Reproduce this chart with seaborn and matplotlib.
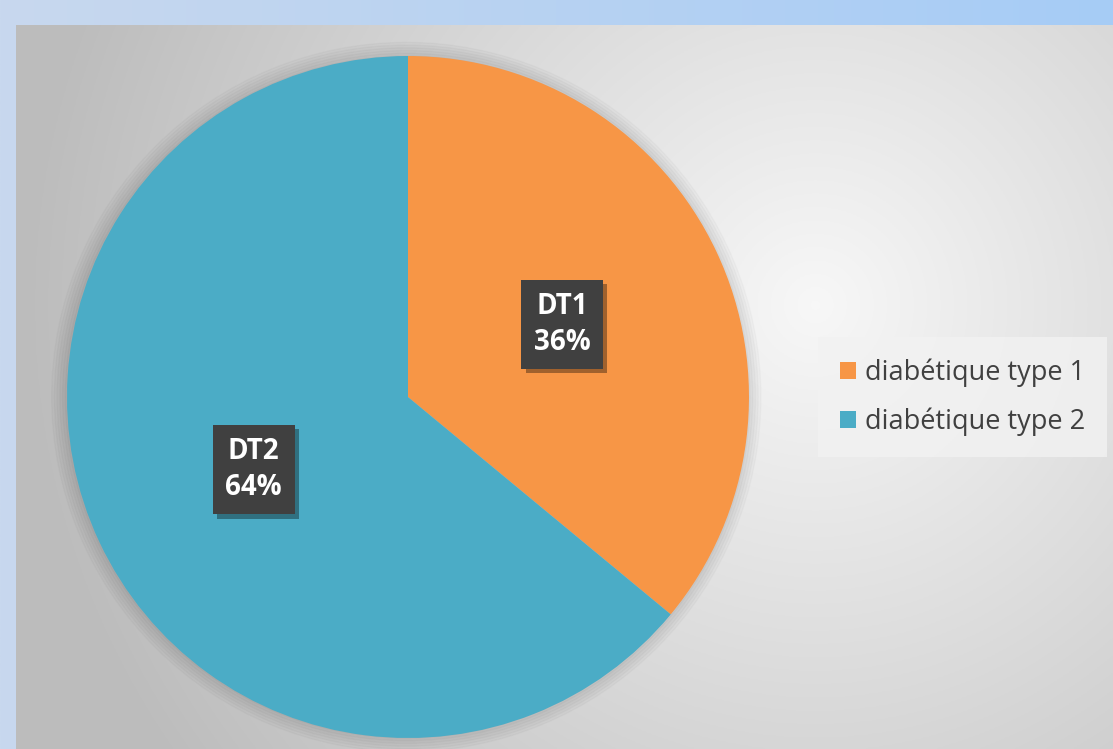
import numpy as np
import matplotlib
matplotlib.use("Agg")
import matplotlib.pyplot as plt
import matplotlib.patheffects as pe
import seaborn as sns
from matplotlib.patches import Circle

# data
categories = ["diabétique type 1", "diabétique type 2"]
short_labels = ["DT1", "DT2"]
values = [36, 64]

sns.set_style("white")
plt.rcParams['font.family'] = ['Open Sans', 'DejaVu Sans']
palette = sns.color_palette(["#F79646", "#4BACC6"])

fig = plt.figure(figsize=(11.13, 7.49), dpi=100)

# outer light blue background (horizontal gradient)
bg = fig.add_axes([0, 0, 1, 1])
bg.set_axis_off()
xx = np.linspace(0, 1, 400)
c0 = np.array([200, 216, 238]) / 255
c1 = np.array([166, 204, 246]) / 255
grad = c0[None, None, :] * (1 - xx)[None, :, None] + c1[None, None, :] * xx[None, :, None]
bg.imshow(np.repeat(grad, 4, axis=0), aspect="auto", extent=[0, 1, 0, 1])

# inner grey panel with radial gradient
panel = fig.add_axes([16 / 1113, 0, 1 - 16 / 1113, (749 - 25) / 749])
panel.set_axis_off()
W, H = 1097, 724
X, Y = np.meshgrid(np.linspace(0, W, 550), np.linspace(0, H, 362))
cx, cy = 800, 280
d = np.sqrt((X - cx) ** 2 + (Y - cy) ** 2) / 820
v = np.clip(0.97 - 0.24 * d, 0.74, 0.97)
panel.imshow(np.dstack([v, v, v]), aspect="auto", extent=[0, 1, 0, 1])

# pie
ax = fig.add_axes([(408 - 341) / 1113, (749 - 738) / 749, 682 / 1113, 682 / 749])
ax.set_axis_off()
ax.set_facecolor("none")

# soft shadow around the pie
for r in np.linspace(1.04, 1.0, 6):
    ax.add_patch(Circle((-0.005, 0.0), r, color="black", alpha=0.02, zorder=0, clip_on=False))

labels_text = [f"{s}\n{v}%" for s, v in zip(short_labels, values)]
wedges, _ = ax.pie(values, colors=palette, startangle=90, counterclock=False,
                   radius=1, wedgeprops=dict(linewidth=0))
for w in wedges:
    w.set_clip_on(False)
for w, lab in zip(wedges, labels_text):
    mid = np.deg2rad((w.theta1 + w.theta2) / 2)
    x, y = 0.5 * np.cos(mid), 0.5 * np.sin(mid)
    t = ax.text(x, y, lab, ha="center", va="center", fontsize=20, fontweight="bold",
                color="white", linespacing=1.3,
                bbox=dict(boxstyle="square,pad=0.45", fc="#404040", ec="none"))
    t.get_bbox_patch().set_path_effects([
        pe.SimplePatchShadow(offset=(3, -3), shadow_rgbFace="black", alpha=0.35),
        pe.Normal()])
ax.set_xlim(-1, 1)
ax.set_ylim(-1, 1)
ax.set_aspect("equal")

leg = fig.legend(wedges, categories, loc="center left",
                 bbox_to_anchor=(826 / 1113, (749 - 397) / 749),
                 fontsize=19.5, frameon=True, handlelength=0.6, handleheight=0.6,
                 handletextpad=0.35, labelspacing=0.75, borderpad=0.5, borderaxespad=0)
leg.get_frame().set_facecolor("#F2F2F2")
leg.get_frame().set_edgecolor("none")
leg.get_frame().set_alpha(0.8)
leg.get_frame().set_boxstyle("square")
for t in leg.get_texts():
    t.set_color("#404040")

fig.savefig("out.png", dpi=100)
